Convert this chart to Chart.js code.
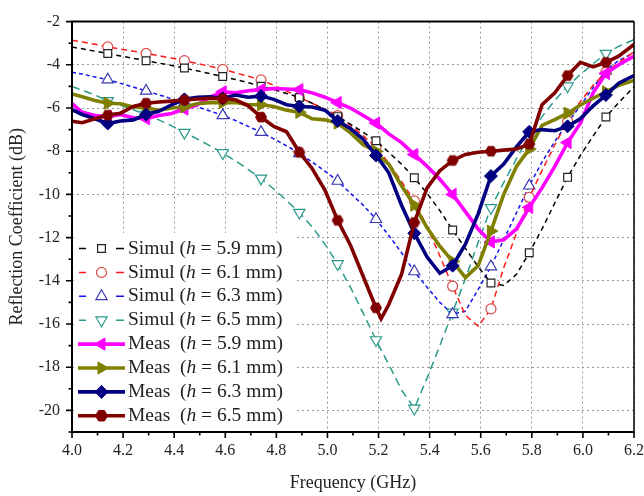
<!DOCTYPE html>
<html>
<head>
<meta charset="utf-8">
<title>Reflection coefficient</title>
<script src="https://cdn.jsdelivr.net/npm/chart.js@4.4.1/dist/chart.umd.min.js"></script>
<style>
  html, body { margin: 0; padding: 0; background: #fff; }
</style>
</head>
<body>
<canvas id="chart" width="644" height="496"></canvas>
<script>
// ---- values ----
const freq = [4.00, 4.04, 4.09, 4.14, 4.19, 4.24, 4.29, 4.34, 4.39, 4.44, 4.49, 4.54, 4.59, 4.64, 4.69,
  4.74, 4.79, 4.84, 4.89, 4.94, 4.99, 5.04, 5.09, 5.14, 5.19, 5.21, 5.24, 5.29, 5.34, 5.39, 5.44, 5.49,
  5.54, 5.59, 5.64, 5.69, 5.74, 5.79, 5.84, 5.89, 5.94, 5.99, 6.04, 6.09, 6.14, 6.20];

// frequencies where a marker symbol is drawn
const markerFreq = [4.14, 4.29, 4.44, 4.59, 4.74, 4.89, 5.04, 5.19, 5.34, 5.49, 5.64, 5.79, 5.94, 6.09];

const heights = ["5.9", "6.1", "6.3", "6.5"];

const simul59 = [-3.18, -3.26, -3.37, -3.48, -3.59, -3.70, -3.81, -3.92, -4.03, -4.15, -4.28, -4.41, -4.54, -4.68, -4.83,
  -4.99, -5.15, -5.33, -5.51, -5.78, -6.07, -6.40, -6.75, -7.12, -7.52, -7.73, -8.05, -8.60, -9.23, -9.95, -10.75, -11.65,
  -12.50, -13.35, -14.10, -14.22, -13.70, -12.70, -11.60, -10.40, -9.21, -8.20, -7.30, -6.42, -5.75, -5.02];
const simul61 = [-2.86, -2.94, -3.05, -3.17, -3.27, -3.37, -3.47, -3.58, -3.69, -3.81, -3.94, -4.07, -4.21, -4.37, -4.53,
  -4.70, -4.95, -5.22, -5.51, -5.78, -6.05, -6.35, -6.80, -7.28, -7.82, -8.10, -8.55, -9.40, -10.30, -11.50, -12.85, -14.25,
  -15.60, -16.10, -15.30, -13.40, -11.80, -10.14, -8.90, -7.70, -6.60, -5.70, -4.95, -4.34, -3.90, -3.40];
const simul63 = [-4.34, -4.43, -4.56, -4.69, -4.86, -5.03, -5.21, -5.39, -5.57, -5.75, -5.94, -6.14, -6.34, -6.58, -6.85,
  -7.12, -7.43, -7.75, -8.10, -8.50, -8.92, -9.38, -9.95, -10.50, -11.15, -11.45, -11.90, -12.70, -13.57, -14.30, -15.00, -15.55,
  -15.40, -14.40, -13.34, -12.10, -10.85, -9.60, -8.50, -7.55, -6.69, -5.90, -5.05, -4.27, -3.80, -3.44];
const simul65 = [-5.00, -5.18, -5.40, -5.67, -5.87, -6.08, -6.31, -6.55, -6.83, -7.14, -7.43, -7.75, -8.08, -8.45, -8.85,
  -9.26, -9.75, -10.28, -10.84, -11.50, -12.30, -13.22, -14.30, -15.50, -16.74, -17.20, -17.87, -19.05, -19.91, -18.50, -17.00, -15.46,
  -13.90, -12.22, -10.62, -9.45, -8.35, -7.29, -6.40, -5.65, -4.99, -4.45, -3.95, -3.48, -3.15, -2.83];

const meas59 = [-5.80, -6.20, -6.35, -6.40, -6.30, -6.45, -6.50, -6.35, -6.25, -6.05, -5.85, -5.50, -5.25, -5.30, -5.20,
  -5.15, -5.10, -5.12, -5.15, -5.30, -5.50, -5.75, -6.00, -6.35, -6.70, -6.90, -7.20, -7.60, -8.15, -8.70, -9.30, -10.00,
  -10.80, -11.60, -12.20, -12.10, -11.60, -10.60, -9.70, -8.70, -7.60, -6.70, -5.30, -4.40, -4.00, -3.60];
const meas61 = [-5.35, -5.48, -5.65, -5.78, -5.80, -5.95, -6.00, -6.10, -6.00, -5.95, -5.80, -5.75, -5.75, -5.75, -5.85,
  -5.85, -5.93, -6.10, -6.20, -6.50, -6.55, -6.70, -7.15, -7.70, -8.00, -8.30, -8.60, -9.60, -10.50, -11.55, -12.40, -13.10,
  -13.85, -13.30, -11.70, -10.00, -8.70, -7.90, -6.80, -6.54, -6.24, -5.86, -5.55, -5.25, -4.95, -4.72];
const meas63 = [-6.08, -6.30, -6.50, -6.72, -6.60, -6.55, -6.30, -6.15, -5.85, -5.60, -5.50, -5.48, -5.55, -5.40, -5.50,
  -5.45, -5.60, -5.85, -5.93, -5.95, -6.10, -6.60, -6.95, -7.45, -8.20, -8.50, -9.00, -10.50, -11.80, -12.90, -13.65, -13.30,
  -12.30, -10.90, -9.15, -8.60, -7.80, -7.10, -7.00, -7.05, -6.85, -6.50, -5.90, -5.40, -4.85, -4.50];
const meas65 = [-6.61, -6.68, -6.50, -6.33, -6.24, -5.93, -5.78, -5.72, -5.68, -5.63, -5.58, -5.55, -5.56, -5.62, -5.90,
  -6.42, -6.85, -7.10, -8.05, -8.80, -9.80, -11.20, -12.35, -13.80, -15.25, -15.76, -15.10, -13.70, -11.30, -9.70, -8.90, -8.43,
  -8.15, -8.05, -8.00, -7.95, -7.90, -7.67, -5.85, -5.30, -4.50, -3.89, -4.10, -3.89, -3.60, -3.06];

const xTickLabels = ["4.0", "4.2", "4.4", "4.6", "4.8", "5.0", "5.2", "5.4", "5.6", "5.8", "6.0", "6.2"];
const yTickLabels = ["-20", "-18", "-16", "-14", "-12", "-10", "-8", "-6", "-4", "-2"];

const SERIF = "'Liberation Serif', 'Times New Roman', serif";
const TEXT = "#222";

// filled hexagon used as the marker of the last measured curve
function hexagon(color, r) {
  const c = document.createElement("canvas");
  c.width = c.height = 2 * r + 2;
  const g = c.getContext("2d");
  g.fillStyle = color;
  g.beginPath();
  for (let i = 0; i < 6; i++) {
    const a = Math.PI / 3 * i;
    g.lineTo(r + 1 + r * Math.cos(a), r + 1 + r * Math.sin(a));
  }
  g.closePath();
  g.fill();
  return c;
}

function isMarker(i) {
  return markerFreq.some(f => Math.abs(f - freq[i]) < 1e-6);
}

function series(kind, h, values, o) {
  const hollow = kind === "Simul";
  return {
    label: kind + " (h = " + h + " mm)",
    kind: kind,
    h: h,
    mark: o,
    order: o.order,
    data: freq.map((f, i) => ({ x: f, y: values[i] })),
    borderColor: o.color,
    borderWidth: hollow ? 1.5 : 3.6,
    borderDash: o.dash || [],
    tension: 0,
    pointStyle: o.style === "hex" ? hexagon(o.color, o.r) : o.style,
    rotation: o.rot || 0,
    pointRotation: o.rot || 0,
    pointRadius: ctx => (isMarker(ctx.dataIndex) ? o.r : 0),
    pointBackgroundColor: hollow ? "#fff" : o.color,
    pointBorderColor: o.edge || o.color,
    pointBorderWidth: hollow ? 1.2 : 1
  };
}

const datasets = [
  series("Simul", heights[0], simul59, { color: "#000", edge: "#222", dash: [5, 4], style: "rect", r: 5.5, order: 4 }),
  series("Simul", heights[1], simul61, { color: "#ff1a1a", edge: "#d84a4a", dash: [6, 4], style: "circle", r: 5, order: 5 }),
  series("Simul", heights[2], simul63, { color: "#1414f0", edge: "#3838b0", dash: [4, 3], style: "triangle", r: 6.5, order: 6 }),
  series("Simul", heights[3], simul65, { color: "#2a9a8c", edge: "#2a9a8c", dash: [8, 5], style: "triangle", rot: 180, r: 6.5, order: 7 }),
  series("Meas", heights[0], meas59, { color: "#ff00ff", style: "triangle", rot: -90, r: 7, order: 3 }),
  series("Meas", heights[1], meas61, { color: "#808000", style: "triangle", rot: 90, r: 7, order: 2 }),
  series("Meas", heights[2], meas63, { color: "#000080", style: "rectRot", r: 6.5, order: 1 }),
  series("Meas", heights[3], meas65, { color: "#800000", style: "hex", r: 6, order: 0 })
];

// draw one marker symbol (used for the legend samples)
function drawMark(ctx, o, x, y, fill, stroke, lw) {
  const r = o.r;
  ctx.save();
  ctx.translate(x, y);
  ctx.rotate((o.rot || 0) * Math.PI / 180);
  ctx.beginPath();
  if (o.style === "rect") {
    const s = r * Math.SQRT1_2;
    ctx.rect(-s, -s, 2 * s, 2 * s);
  } else if (o.style === "circle") {
    ctx.arc(0, 0, r, 0, Math.PI * 2);
  } else if (o.style === "triangle") {
    for (let k = 0; k < 3; k++) {
      const a = k * 2 * Math.PI / 3;
      ctx.lineTo(Math.sin(a) * r, -Math.cos(a) * r);
    }
    ctx.closePath();
  } else if (o.style === "rectRot") {
    ctx.moveTo(0, -r); ctx.lineTo(r, 0); ctx.lineTo(0, r); ctx.lineTo(-r, 0);
    ctx.closePath();
  } else if (o.style === "hex") {
    for (let k = 0; k < 6; k++) {
      const a = Math.PI / 3 * k;
      ctx.lineTo(r * Math.cos(a), r * Math.sin(a));
    }
    ctx.closePath();
  }
  ctx.fillStyle = fill;
  ctx.fill();
  ctx.lineWidth = lw;
  ctx.strokeStyle = stroke;
  ctx.stroke();
  ctx.restore();
}

// frame round the plot + outward major/minor ticks
const framePlugin = {
  id: "frame",
  afterDatasetsDraw(chart) {
    const { ctx, chartArea: a, scales } = chart;
    ctx.save();
    ctx.strokeStyle = "#000";
    ctx.lineWidth = 2;
    ctx.beginPath();
    ctx.moveTo(a.left, a.top); ctx.lineTo(a.right, a.top);
    ctx.moveTo(a.left, a.top - 1); ctx.lineTo(a.left, a.bottom + 1);
    ctx.moveTo(a.left - 1, a.bottom); ctx.lineTo(a.right + 1, a.bottom);
    ctx.stroke();
    ctx.lineWidth = 1.5;
    ctx.beginPath();
    ctx.moveTo(a.right, a.top); ctx.lineTo(a.right, a.bottom);
    ctx.stroke();

    ctx.lineWidth = 1.6;
    ctx.beginPath();
    xTickLabels.forEach((t, i) => {
      const v = parseFloat(t);
      const px = scales.x.getPixelForValue(v);
      ctx.moveTo(px, a.bottom); ctx.lineTo(px, a.bottom + 6);
      if (i < xTickLabels.length - 1) {
        const pm = scales.x.getPixelForValue(v + 0.1);
        ctx.moveTo(pm, a.bottom); ctx.lineTo(pm, a.bottom + 3.5);
      }
    });
    yTickLabels.forEach(t => {
      const v = parseFloat(t);
      const py = scales.y.getPixelForValue(v);
      ctx.moveTo(a.left, py); ctx.lineTo(a.left - 6, py);
      const pm = scales.y.getPixelForValue(v - 1);
      ctx.moveTo(a.left, pm); ctx.lineTo(a.left - 3.5, pm);
    });
    ctx.stroke();
    ctx.restore();
  }
};

// legend box in the lower left corner, with the italic h
const legendPlugin = {
  id: "boxLegend",
  afterDatasetsDraw(chart) {
    const ctx = chart.ctx;
    ctx.save();
    ctx.fillStyle = "#fff";
    ctx.fillRect(74, 233, 222, 197);
    const font = "19.5px " + SERIF;
    chart.data.datasets.forEach((ds, i) => {
      const y = 248.5 + i * 23.9;
      const cx = 101.5;
      ctx.strokeStyle = ds.borderColor;
      ctx.lineWidth = ds.borderWidth;
      ctx.beginPath();
      if (ds.kind === "Simul") {
        ctx.moveTo(79, y); ctx.lineTo(86, y);
        ctx.moveTo(116, y); ctx.lineTo(124, y);
      } else {
        ctx.moveTo(78, y); ctx.lineTo(125, y);
      }
      ctx.stroke();
      const hollow = ds.kind === "Simul";
      drawMark(ctx, ds.mark, cx, y, hollow ? "#fff" : ds.mark.color, ds.mark.edge || ds.mark.color, hollow ? 1.2 : 1);

      ctx.fillStyle = TEXT;
      ctx.textBaseline = "middle";
      let x = 128;
      const head = ds.kind + (ds.kind === "Meas" ? "  (" : " (");
      ctx.font = font;
      ctx.fillText(head, x, y);
      x += ctx.measureText(head).width;
      ctx.font = "italic " + font;
      ctx.fillText("h", x, y);
      x += ctx.measureText("h").width;
      ctx.font = font;
      ctx.fillText(" = " + ds.h + " mm)", x, y);
    });
    ctx.restore();
  }
};

new Chart(document.getElementById("chart"), {
  type: "line",
  data: { datasets: datasets },
  options: {
    responsive: false,
    animation: false,
    events: [],
    layout: { padding: { top: 13, right: 10, left: 0, bottom: 0 } },
    plugins: { legend: { display: false }, tooltip: { enabled: false } },
    scales: {
      x: {
        type: "linear",
        min: 4.0,
        max: 6.2,
        afterBuildTicks: s => { s.ticks = xTickLabels.map(t => ({ value: parseFloat(t) })); },
        afterFit: s => { s.height = 64; s.paddingLeft = 0; s.paddingRight = 0; },
        ticks: {
          autoSkip: false,
          maxRotation: 0,
          padding: 9,
          color: TEXT,
          font: { family: SERIF, size: 16 },
          callback: (v, i) => xTickLabels[i]
        },
        grid: { color: "#9a9a9a", lineWidth: 1, drawTicks: false },
        border: { display: false, dash: [2, 3] },
        title: {
          display: true,
          text: "Frequency (GHz)",
          color: TEXT,
          font: { family: SERIF, size: 18 },
          padding: { top: 0, bottom: 2 }
        }
      },
      y: {
        min: -21,
        max: -2,
        afterBuildTicks: s => { s.ticks = yTickLabels.map(t => ({ value: parseFloat(t) })); },
        afterFit: s => { s.width = 72; },
        ticks: {
          autoSkip: false,
          padding: 12,
          color: TEXT,
          font: { family: SERIF, size: 16 },
          callback: (v, i) => yTickLabels[i]
        },
        grid: { color: "#9a9a9a", lineWidth: 1, drawTicks: false },
        border: { display: false, dash: [2, 3] },
        title: {
          display: true,
          text: "Reflection Coefficient (dB)",
          color: TEXT,
          font: { family: SERIF, size: 18 },
          padding: { top: 6, bottom: 0 }
        }
      }
    }
  },
  plugins: [framePlugin, legendPlugin]
});
</script>
</body>
</html>
